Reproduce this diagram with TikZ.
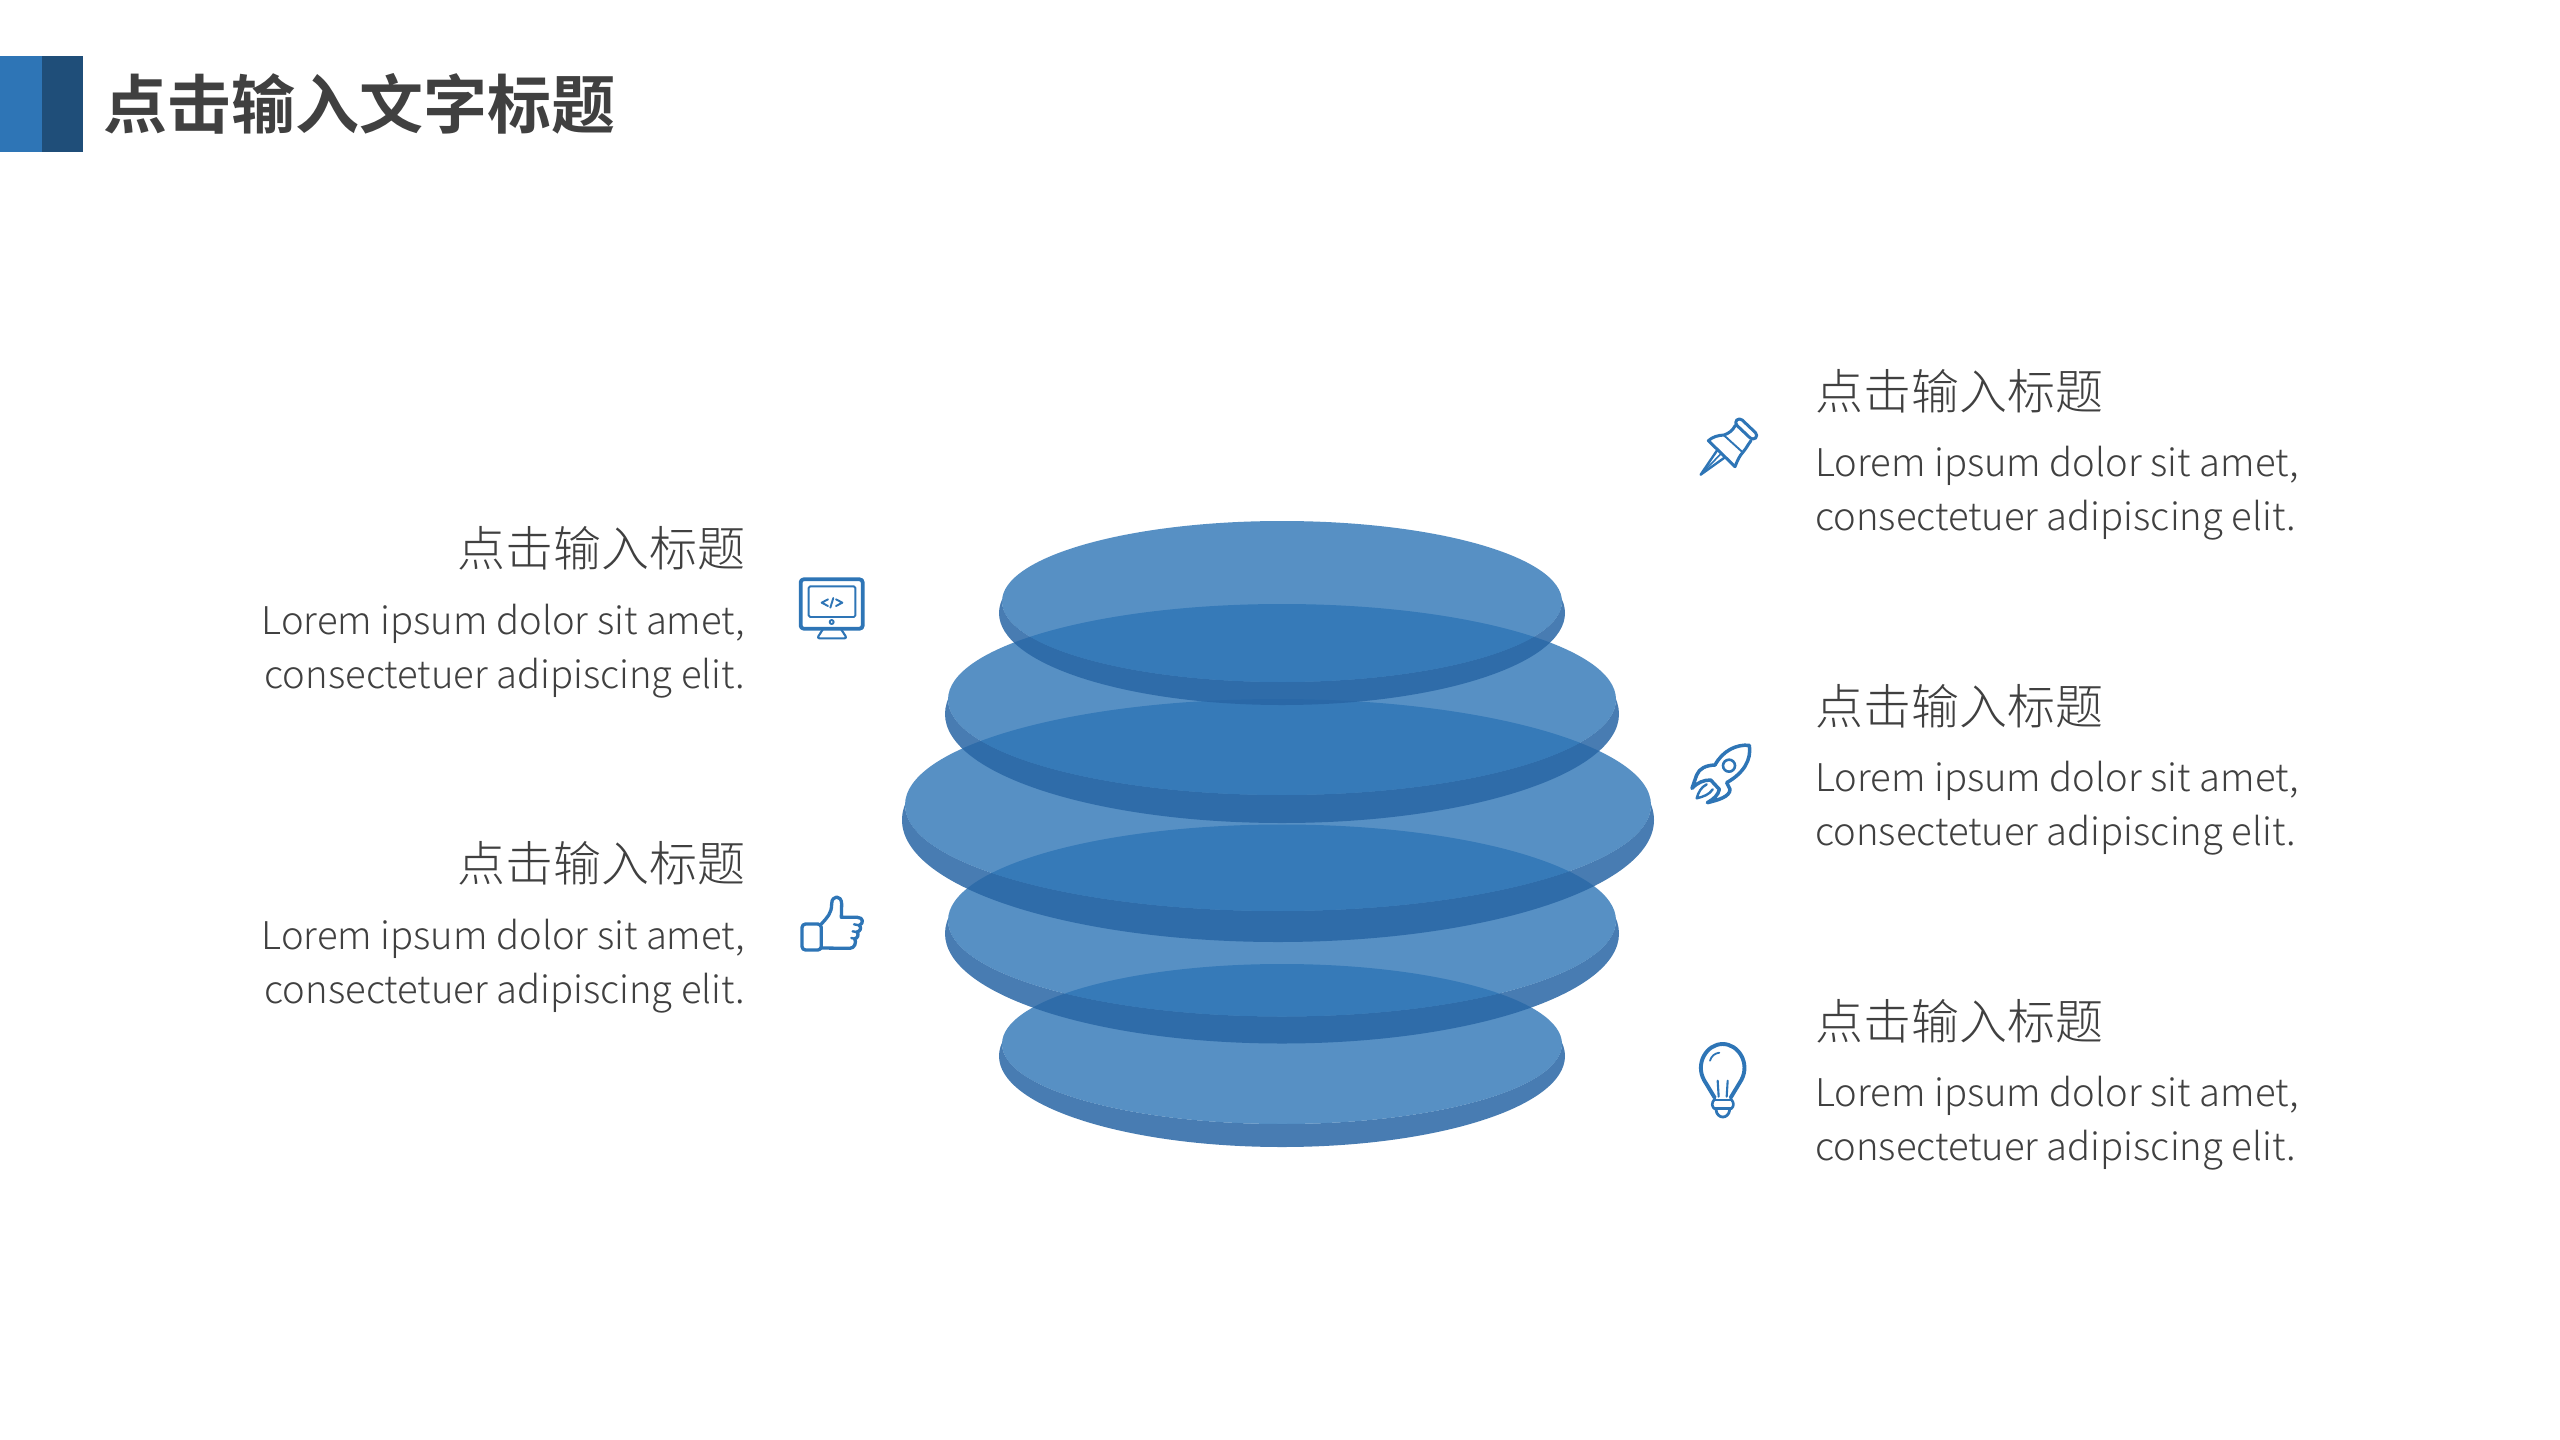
\documentclass[tikz,border=0pt]{standalone}
\usepackage{fontspec}
\setmainfont{Noto Sans CJK SC}
\newfontfamily\lightfont{Noto Sans CJK SC Light}
\newfontfamily\boldfont{Noto Sans CJK SC Bold}
\definecolor{iconblue}{HTML}{2E75B6}
\definecolor{darkbar}{HTML}{1F4E79}
\definecolor{rimblue}{HTML}{2866A5}
\definecolor{inktext}{HTML}{404040}
\newcommand{\disc}[7]{%
  % cx, rx outer, outer cy, outer ry, face cy, face ry, cusp y
  \begin{scope}
    \clip (0,#7) rectangle (2560,1440);
    \fill[rimblue,opacity=.85,even odd rule] (#1,#3) ellipse [x radius=#2,y radius=#4]
      (#1,#5) ellipse [x radius=#2-3,y radius=#6];
  \end{scope}
  \fill[iconblue,opacity=.8] (#1,#5) ellipse [x radius=#2-3,y radius=#6];
}
\tikzset{
  x=1pt,y=-1pt,
  headtext/.style={inner sep=0pt,text=inktext,font=\lightfont\fontsize{48pt}{54pt}\selectfont},
  bodytext/.style={inner sep=0pt,text=inktext,font=\lightfont\fontsize{38.2pt}{54pt}\selectfont},
  icon/.style={draw=iconblue,line width=#1,line cap=round,line join=round},
  icon/.default=2.6pt,
  zoomframe/.style={x=0.33333pt,y=-0.33333pt}
}
\begin{document}
\begin{tikzpicture}
\useasboundingbox (0,0) rectangle (2560,1440);
\fill[white] (0,0) rectangle (2560,1440);
% header bar
\fill[iconblue] (0,56) rectangle (42,152);
\fill[darkbar] (42,56) rectangle (83,152);
\node[anchor=west,inner sep=0pt,text=inktext,font=\boldfont\fontsize{64pt}{64pt}\selectfont] (title) at (103,104) {点击输入文字标题};
% discs, bottom up
\disc{1282}{283}{1056}{91}{1044}{80}{1042.8}
\disc{1282}{337}{933.5}{110}{920.5}{96}{919}
\disc{1278}{376}{820}{122}{805}{106}{804.6}
\disc{1282}{337}{714}{109}{699.5}{95.5}{699.5}
\disc{1282}{283}{613}{92}{601.5}{80.5}{599.6}
% texts left
\node[headtext,anchor=east] (h1) at (745.5,548) {点击输入标题};
\node[bodytext,anchor=east,align=right] (b1) at (745.5,651) {Lorem ipsum dolor sit amet,\\consectetuer adipiscing elit.};
\node[headtext,anchor=east] (h2) at (745.5,863.5) {点击输入标题};
\node[bodytext,anchor=east,align=right] (b2) at (745.5,966.5) {Lorem ipsum dolor sit amet,\\consectetuer adipiscing elit.};
% texts right
\node[headtext,anchor=west] (h3) at (1815,391) {点击输入标题};
\node[bodytext,anchor=west,align=left] (b3) at (1815,493) {Lorem ipsum dolor sit amet,\\consectetuer adipiscing elit.};
\node[headtext,anchor=west] (h4) at (1815,706.5) {点击输入标题};
\node[bodytext,anchor=west,align=left] (b4) at (1815,808.5) {Lorem ipsum dolor sit amet,\\consectetuer adipiscing elit.};
\node[headtext,anchor=west] (h5) at (1815,1021) {点击输入标题};
\node[bodytext,anchor=west,align=left] (b5) at (1815,1123) {Lorem ipsum dolor sit amet,\\consectetuer adipiscing elit.};
% monitor
\begin{scope}[shift={(780pt,-560pt)},zoomframe]
  \draw[icon=3.8pt,rounded corners=3pt] (62,58) rectangle (248,206);
  \draw[icon=1.9pt,rounded corners=1.5pt] (86,79) rectangle (226,171);
  \draw[icon=1.9pt] (144,118) -- (125,128) -- (144,138);
  \draw[icon=1.9pt] (168,118) -- (187,128) -- (168,138);
  \draw[icon=1.9pt] (160,114) -- (151,143);
  \draw[icon=1.9pt] (155,186) circle (6);
  \draw[icon=2.1pt,rounded corners=2.5pt] (128,209) -- (111,235) -- (201,235) -- (184,209);
\end{scope}
% thumb
\begin{scope}[shift={(780pt,-880pt)},zoomframe]
  \draw[icon=3.3pt,rounded corners=3.5pt] (66,132) rectangle (124,210);
  \draw[icon=3.3pt] (124,132) .. controls (142,112) and (155,100) .. (155,72)
    .. controls (155,44) and (185,44) .. (185,72) -- (184,112) -- (232,112)
    .. controls (250,112) and (252,130) .. (238,136)
    .. controls (246,144) and (240,154) .. (231,156)
    .. controls (238,164) and (232,176) .. (224,176)
    .. controls (230,188) and (224,204) .. (210,205) -- (124,204);
  \draw[icon=2.4pt] (238,136) -- (222,133) (231,156) -- (218,154) (224,176) -- (214,174);
\end{scope}
% pin
\begin{scope}[shift={(1680pt,-400pt)},zoomframe]
  \draw[icon=3pt,rounded corners=4pt] (162,68) -- (178,52) -- (235,106) -- (219,122) -- cycle;
  \draw[icon=3pt] (166,76) .. controls (158,92) and (146,100) .. (132,105) .. controls (115,106) and (98,110) .. (85,122)
    -- (165,200) .. controls (172,182) and (178,168) .. (190,155) .. controls (198,146) and (205,132) .. (213,122);
  \draw[icon=1.9pt] (133,107) -- (188,157);
  \draw[icon=2.4pt] (112,150) -- (62,224) -- (132,174);
  \draw[icon=1.6pt] (62,224) -- (122,162);
\end{scope}
% rocket
\begin{scope}[shift={(1680pt,-730pt)},zoomframe]
  \draw[icon=3.5pt] (208,46) .. controls (170,42) and (128,62) .. (105,105)
    .. controls (78,106) and (58,115) .. (50,135) -- (36,175)
    .. controls (52,158) and (70,150) .. (92,150)
    -- (118,178) .. controls (115,195) and (100,208) .. (82,218)
    .. controls (115,210) and (150,200) .. (150,178) -- (140,158)
    .. controls (190,130) and (215,90) .. (208,46) -- cycle;
  \draw[icon=2.6pt] (147,107) circle (18);
  \draw[icon=2.4pt] (80,163) .. controls (62,172) and (55,188) .. (50,205) .. controls (70,200) and (88,194) .. (98,178);
\end{scope}
% bulb
\begin{scope}[shift={(1680pt,-1030pt)},zoomframe]
  \draw[icon=3.9pt] (104,203) -- (72,150) .. controls (45,100) and (80,42) .. (128,42)
    .. controls (176,42) and (211,100) .. (184,150) -- (152,203);
  \draw[icon=1.8pt] (90,92) .. controls (94,78) and (104,70) .. (118,68);
  \draw[icon=2.1pt] (113,152) -- (116,200) (143,152) -- (140,200);
  \draw[icon=2.8pt] (102,210) -- (155,210) (102,235) -- (155,235);
  \draw[icon=2.6pt] (102,210) .. controls (95,218) and (95,228) .. (102,235) (155,210) .. controls (162,218) and (162,228) .. (155,235);
  \draw[icon=2.8pt] (108,240) .. controls (112,268) and (145,268) .. (149,240);
\end{scope}
\end{tikzpicture}
\end{document}
